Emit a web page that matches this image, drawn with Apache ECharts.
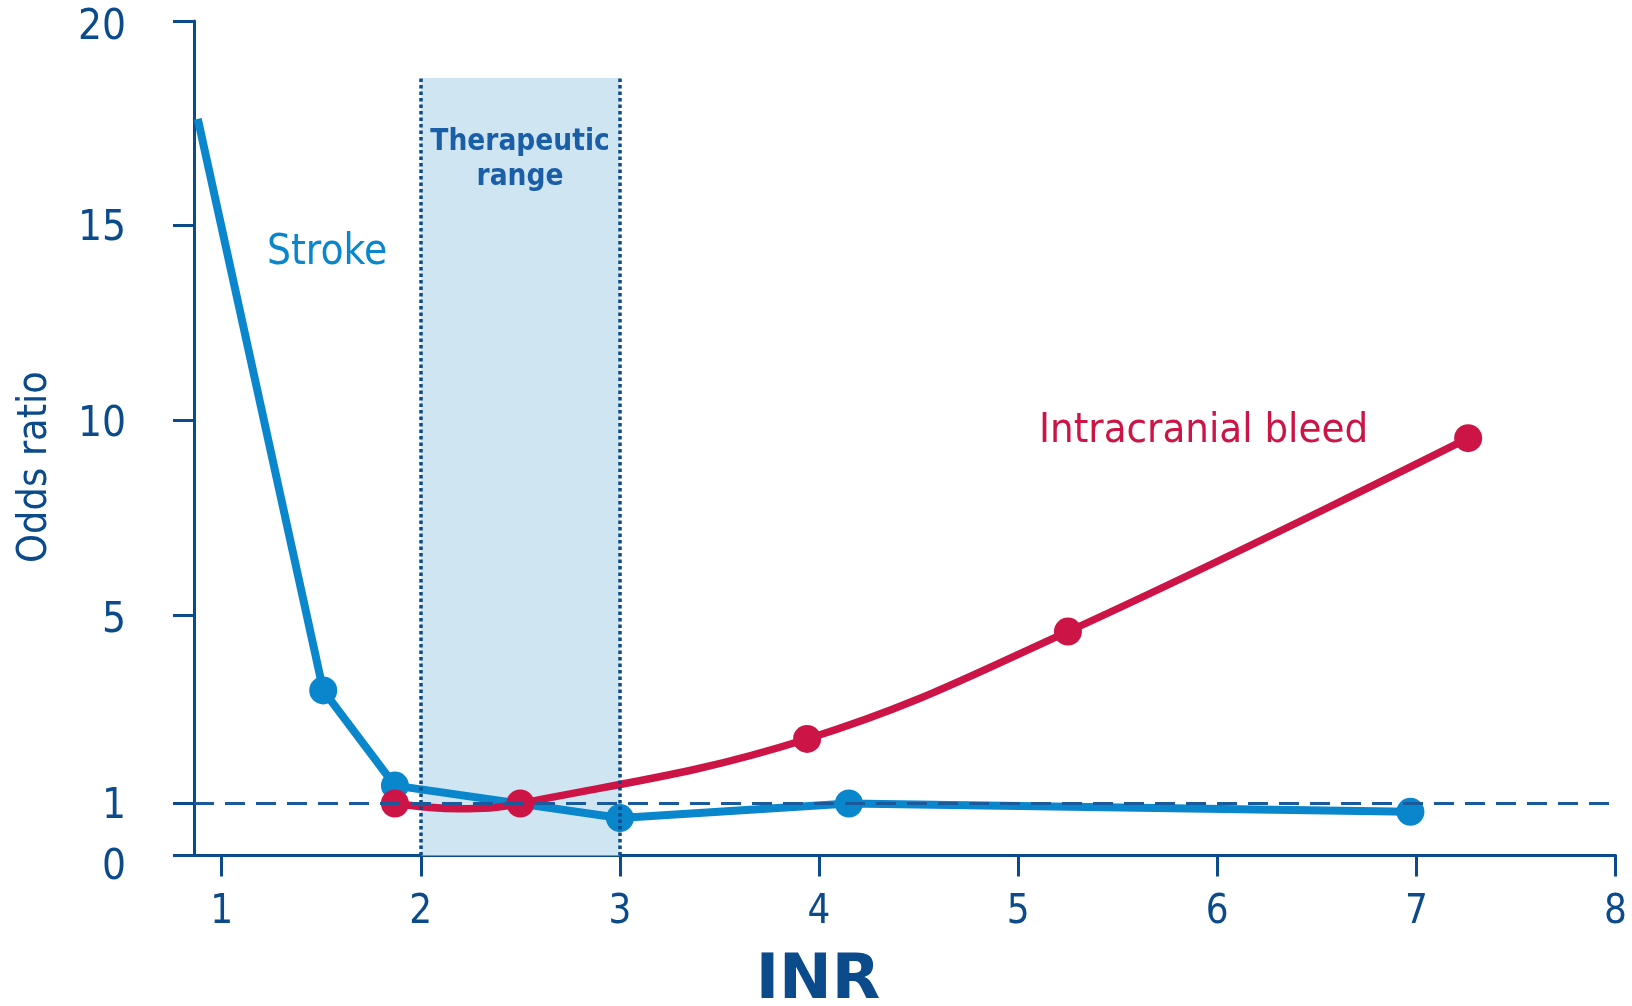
<!DOCTYPE html>
<html>
<head>
<meta charset="utf-8">
<script src="https://cdn.jsdelivr.net/npm/echarts@6/dist/echarts.min.js"></script>
<style>
  html, body { margin: 0; padding: 0; background: #ffffff; }
  #chart { width: 1632px; height: 1006px; }
</style>
</head>
<body>
<div id="chart"></div>
<script>
// INR values and odds ratios for each curve
const strokeINR  = [0.88, 1.51, 1.87, 3.00, 4.15, 6.97];
const strokeOR   = [17.6, 3.40, 1.38, 0.72, 1.00, 0.84];
// the bleed curve sags just below 1 between its first two markers (unmarked point at 2.19)
const bleedINR   = [1.87, 2.19, 2.50, 3.94, 5.25, 7.26];
const bleedOR    = [1.00, 0.90, 1.00, 2.37, 4.65, 9.55];
const bleedMarked = [true, false, true, true, true, true];

// Axis tick labels
const xTicks = [1, 2, 3, 4, 5, 6, 7, 8];
const yTicks = [0, 1, 5, 10, 15, 20];

// Therapeutic INR window and reference odds ratio
const therapeuticRange = [2, 3];
const therapeuticTopOR = 18.6;
const referenceOR = 1;

// The odds-ratio axis is drawn with unequal spacing between its ticks:
// each tick value is placed at its own height along a 0..20 track.
const yTickHeights = [0, 1.246, 5.762, 10.422, 15.111, 20];

function warp(v) {
  for (let i = 1; i < yTicks.length; i++) {
    if (v <= yTicks[i] || i === yTicks.length - 1) {
      const t = (v - yTicks[i - 1]) / (yTicks[i] - yTicks[i - 1]);
      return yTickHeights[i - 1] + t * (yTickHeights[i] - yTickHeights[i - 1]);
    }
  }
  return v;
}

const DARK = '#0b4a8b';
const BLUE = '#0a86cc';
const RED = '#cc1546';
const FONT = '"DejaVu Sans Condensed", "DejaVu Sans", sans-serif';

const strokeData = strokeINR.map((x, i) => {
  const item = { value: [x, warp(strokeOR[i])] };
  if (i === 0) item.symbol = 'none';
  return item;
});
const bleedData = bleedINR.map((x, i) => {
  const item = { value: [x, warp(bleedOR[i])] };
  if (!bleedMarked[i]) item.symbol = 'none';
  return item;
});

const chart = echarts.init(document.getElementById('chart'), null, { renderer: 'canvas' });

chart.setOption({
  animation: false,
  backgroundColor: '#ffffff',
  grid: { left: 194, right: 16.5, top: 21, bottom: 150.5, containLabel: false },
  xAxis: {
    type: 'value',
    min: 0.861,
    max: 8,
    axisLine: { show: true, lineStyle: { color: DARK, width: 3 } },
    axisTick: { show: true, customValues: xTicks, length: 21, lineStyle: { color: DARK, width: 3 } },
    axisLabel: {
      customValues: xTicks,
      margin: 37,
      color: DARK,
      fontSize: 40,
      fontFamily: FONT
    },
    splitLine: { show: false }
  },
  yAxis: {
    type: 'value',
    min: 0,
    max: 20,
    axisLine: { show: true, lineStyle: { color: DARK, width: 3 } },
    axisTick: { show: true, customValues: yTickHeights, length: 21, lineStyle: { color: DARK, width: 3 } },
    axisLabel: {
      customValues: yTickHeights,
      margin: 68,
      color: DARK,
      fontSize: 42,
      fontFamily: FONT,
      formatter: function (v) {
        let best = 0;
        yTickHeights.forEach((h, i) => { if (Math.abs(h - v) < Math.abs(yTickHeights[best] - v)) best = i; });
        const t = yTicks[best];
        if (t === 0) return '{zero|0}';
        if (t === 5) return '{five|5}';
        if (t === 20) return '{top|20}';
        return '{n|' + t + '}';
      },
      rich: {
        n: { fontSize: 42, fontFamily: FONT, color: DARK, padding: [8, 0, 0, 0] },
        top: { fontSize: 42, fontFamily: FONT, color: DARK, padding: [14, 0, 0, 0] },
        five: { fontSize: 42, fontFamily: FONT, color: DARK, padding: [12, 0, 0, 0] },
        zero: { fontSize: 42, fontFamily: FONT, color: DARK, padding: [26, 0, 0, 0] }
      }
    },
    splitLine: { show: false }
  },
  series: [
    {
      // therapeutic band, its dotted borders and the OR = 1 reference line
      type: 'line',
      data: [],
      silent: true,
      z: 1,
      markArea: {
        silent: true,
        itemStyle: { color: '#cfe5f2' },
        data: [[
          { coord: [therapeuticRange[0], 0] },
          { coord: [therapeuticRange[1], warp(therapeuticTopOR)] }
        ]]
      },
      markLine: {
        silent: true,
        symbol: ['none', 'none'],
        label: { show: false },
        data: [
          [
            { coord: [therapeuticRange[0], 0], lineStyle: { color: DARK, width: 3.5, type: [3.5, 3] } },
            { coord: [therapeuticRange[0], warp(therapeuticTopOR)] }
          ],
          [
            { coord: [therapeuticRange[1], 0], lineStyle: { color: DARK, width: 3.5, type: [3.5, 3] } },
            { coord: [therapeuticRange[1], warp(therapeuticTopOR)] }
          ],
          [
            { coord: [0.861, warp(referenceOR)], lineStyle: { color: '#1a5a9c', width: 3, type: [20, 11] } },
            { coord: [7.98, warp(referenceOR)] }
          ]
        ]
      }
    },
    {
      name: 'Stroke',
      type: 'line',
      z: 3,
      data: strokeData,
      symbol: 'circle',
      symbolSize: 28,
      showAllSymbol: true,
      lineStyle: { color: BLUE, width: 8 },
      itemStyle: { color: BLUE }
    },
    {
      name: 'Intracranial bleed',
      type: 'line',
      z: 4,
      data: bleedData,
      smooth: 0.4,
      symbol: 'circle',
      symbolSize: 28,
      showAllSymbol: true,
      lineStyle: { color: RED, width: 7.5 },
      itemStyle: { color: RED }
    }
  ],
  graphic: [
    {
      type: 'text', x: 267, y: 253, z: 100, silent: true,
      style: { text: 'Stroke', fill: BLUE, font: '42px ' + FONT, verticalAlign: 'middle', align: 'left' }
    },
    {
      type: 'text', x: 1039, y: 431, z: 100, silent: true,
      style: { text: 'Intracranial bleed', fill: RED, font: '41.5px ' + FONT, verticalAlign: 'middle', align: 'left' }
    },
    {
      type: 'text', x: 520, y: 160, z: 100, silent: true,
      style: {
        text: 'Therapeutic\nrange', fill: '#1a5ea8', font: 'bold 29.5px ' + FONT,
        lineHeight: 35, verticalAlign: 'middle', align: 'center'
      }
    },
    {
      type: 'text', x: 818, y: 982, z: 100, silent: true,
      style: { text: 'INR', fill: DARK, font: 'bold 63px "DejaVu Sans", sans-serif', verticalAlign: 'middle', align: 'center' }
    },
    {
      type: 'text', x: 35, y: 467, z: 100, rotation: Math.PI / 2, silent: true,
      style: { text: 'Odds ratio', fill: DARK, font: '41px ' + FONT, verticalAlign: 'middle', align: 'center' }
    }
  ]
});
</script>
</body>
</html>
